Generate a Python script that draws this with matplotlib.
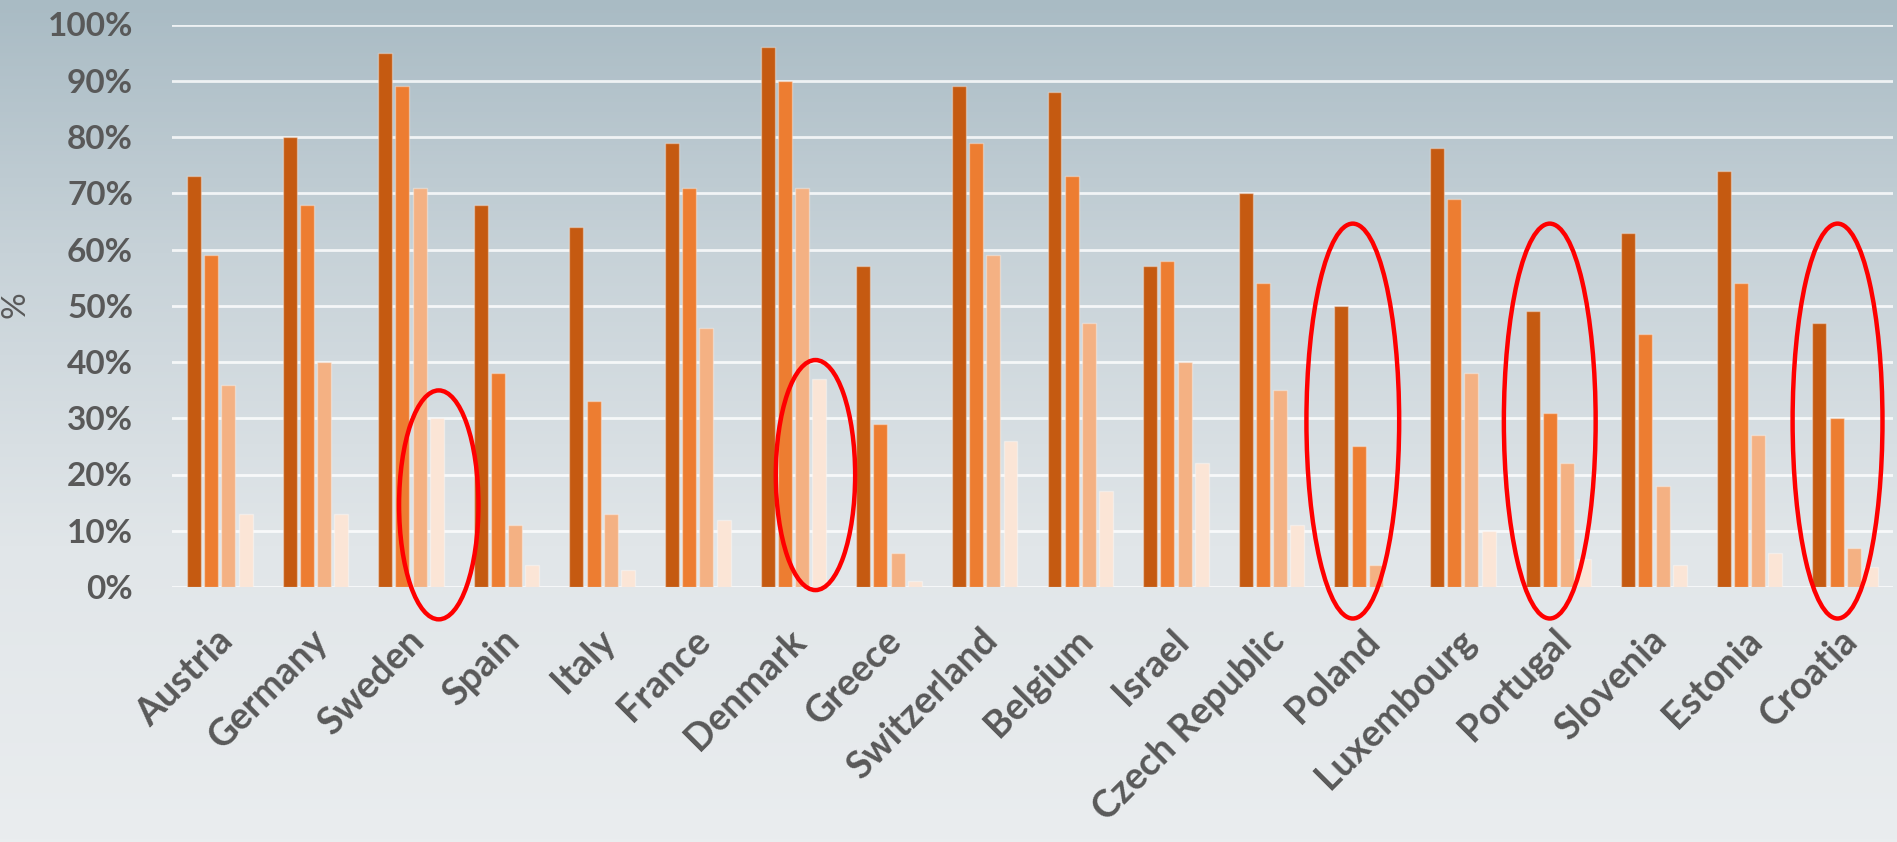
import numpy as np
import matplotlib
matplotlib.use("Agg")
import matplotlib.pyplot as plt
import matplotlib.transforms as mtransforms
from matplotlib.colors import LinearSegmentedColormap
from matplotlib.patches import Ellipse

# --- data (percent) ---
countries = ["Austria", "Germany", "Sweden", "Spain", "Italy", "France", "Denmark",
             "Greece", "Switzerland", "Belgium", "Israel", "Czech Republic", "Poland",
             "Luxembourg", "Portugal", "Slovenia", "Estonia", "Croatia"]
series_1 = [73, 80, 95, 68, 64, 79, 96, 57, 89, 88, 57, 70, 50, 78, 49, 63, 74, 47]
series_2 = [59, 68, 89, 38, 33, 71, 90, 29, 79, 73, 58, 54, 25, 69, 31, 45, 54, 30]
series_3 = [36, 40, 71, 11, 13, 46, 71, 6, 59, 47, 40, 35, 4, 38, 22, 18, 27, 7]
series_4 = [13, 13, 30, 4, 3, 12, 37, 1, 26, 17, 22, 11, 0, 10, 5, 4, 6, 3.5]
y_ticks = list(range(0, 101, 10))

# red rings: country, x shift from group centre, y centre, width, height
highlights = [("Sweden", 0.29, 14.6, 0.83, 40.7),
              ("Denmark", 0.23, 19.9, 0.83, 40.9),
              ("Poland", -0.15, 29.5, 0.97, 70.2),
              ("Portugal", -0.09, 29.5, 0.96, 70.2),
              ("Croatia", -0.08, 29.5, 0.94, 70.2)]

colors = ["#C55A11", "#ED7D31", "#F4B183", "#FBE5D6"]
text_color = "#595959"
plt.rcParams["font.family"] = ["Lato", "DejaVu Sans"]

fig = plt.figure(figsize=(18.97, 8.42), dpi=100)

# gradient backdrop over the whole figure
bg = fig.add_axes([0, 0, 1, 1], zorder=-10)
cmap = LinearSegmentedColormap.from_list(
    "bg", [(0.0, "#EAEDEF"), (0.35, "#E1E6E9"), (0.7, "#C7D2D8"), (1.0, "#A9BBC4")])
grad = np.linspace(0, 1, 256).reshape(-1, 1)
bg.imshow(grad, aspect="auto", cmap=cmap, origin="lower", extent=[0, 1, 0, 1])
bg.axis("off")

ax = fig.add_axes([172 / 1897, 255 / 842, 1721 / 1897, 562.5 / 842])
ax.patch.set_alpha(0)

x = np.arange(len(countries))
width = 0.146
step = 0.18
for i, (vals, c) in enumerate(zip([series_1, series_2, series_3, series_4], colors)):
    ax.bar(x + (i - 1.5) * step, vals, width, color=c,
           edgecolor=(1, 1, 1, 0.35), linewidth=1, zorder=2)

ax.set_xlim(-0.5, len(countries) - 0.5)
ax.set_ylim(0, 100)
ax.set_yticks(y_ticks)
ax.set_yticklabels([f"{t}%" for t in y_ticks])
ax.yaxis.grid(True, color="white", linewidth=2, alpha=0.8)
ax.set_axisbelow(True)
for s in ax.spines.values():
    s.set_visible(False)

ax.tick_params(axis="y", length=0, pad=28, labelsize=24, labelcolor=text_color)
ax.set_xticks(x)
ax.set_xticklabels(countries, rotation=45, ha="right", rotation_mode="anchor",
                   fontsize=27, fontweight="bold", color=text_color)
ax.tick_params(axis="x", length=0, pad=26)
shift = mtransforms.ScaledTranslation(-5 / 100, 0, fig.dpi_scale_trans)
for lbl in ax.get_xticklabels():
    lbl.set_transform(lbl.get_transform() + shift)
for lbl in ax.get_yticklabels():
    lbl.set_fontweight("bold")

fig.text(16 / 1897, 1 - 305 / 842, "%", rotation=90, ha="center", va="center",
         fontsize=24, color=text_color)

for name, dx, cy, w, h in highlights:
    idx = countries.index(name)
    ax.add_patch(Ellipse((idx + dx, cy), w, h, fill=False, edgecolor="red",
                         linewidth=3.2, clip_on=False, zorder=5))

fig.savefig("out.png", dpi=100)
